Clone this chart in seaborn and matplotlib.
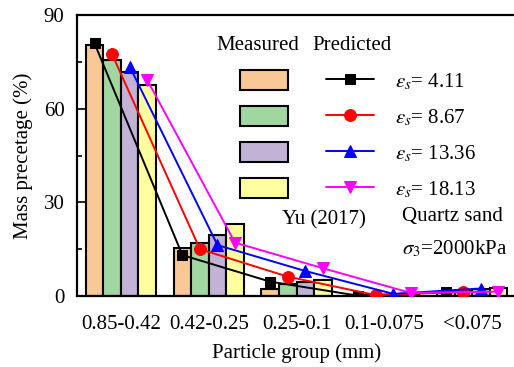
import numpy as np
import pandas as pd
import seaborn as sns
import matplotlib
matplotlib.use("Agg")
import matplotlib.pyplot as plt
from matplotlib.patches import Patch
from matplotlib.ticker import MultipleLocator

# Particle groups (mm)
groups = ["0.85-0.42", "0.42-0.25", "0.25-0.1", "0.1-0.075", "<0.075"]
strain_labels = ["4.11", "8.67", "13.36", "18.13"]

# Measured mass percentage (%) for each shear strain level
measured_411 = [80.4, 15.3, 2.1, 0.2, 1.2]
measured_867 = [75.6, 16.9, 3.7, 0.2, 2.0]
measured_1336 = [71.9, 19.5, 4.6, 0.3, 2.1]
measured_1813 = [67.6, 23.0, 5.1, 0.4, 2.6]

# Predicted mass percentage (%)
predicted_411 = [80.9, 13.1, 4.6, 0.1, 1.2]
predicted_867 = [77.4, 15.0, 6.2, 0.3, 1.3]
predicted_1336 = [73.5, 16.3, 8.0, 0.7, 2.4]
predicted_1813 = [69.2, 17.1, 8.9, 1.0, 1.4]

measured = [measured_411, measured_867, measured_1336, measured_1813]
predicted = [predicted_411, predicted_867, predicted_1336, predicted_1813]

bar_colors = ["#F9C896", "#A0D6A0", "#C1B2D6", "#FFFF9F"]
line_colors = ["black", "#FF0000", "#0000FF", "#FF00FF"]
markers = ["s", "o", "^", "v"]
marker_sizes = [7.5, 8.5, 8.5, 8.5]

sns.set_style("ticks")
plt.rcParams["font.family"] = ["Liberation Serif", "DejaVu Serif"]
plt.rcParams["mathtext.fontset"] = "stix"
plt.rcParams["font.size"] = 15
for key in ["text.color", "axes.labelcolor", "xtick.color", "ytick.color",
            "axes.edgecolor"]:
    plt.rcParams[key] = "black"

df = pd.DataFrame({
    "group": np.repeat([groups], 4, axis=0).ravel(),
    "strain": np.repeat(strain_labels, len(groups)),
    "value": np.concatenate(measured),
})

fig = plt.figure(figsize=(5.14, 3.67), dpi=100)
W, H = 514, 367
ax = fig.add_axes([77 / W, 71 / H, 439 / W, 281 / H])

sns.barplot(data=df, x="group", y="value", hue="strain", order=groups,
            hue_order=strain_labels, palette=bar_colors, saturation=1,
            width=0.8, edgecolor="black", linewidth=1.5, errorbar=None,
            legend=False, ax=ax, zorder=2)

n_hue = len(strain_labels)
bar_w = 0.8 / n_hue
offsets = (np.arange(n_hue) - (n_hue - 1) / 2) * bar_w
xpos = np.arange(len(groups))

for j, vals in enumerate(predicted):
    sns.lineplot(x=xpos + offsets[j], y=vals, color=line_colors[j],
                 marker=markers[j], markersize=marker_sizes[j],
                 markeredgecolor=line_colors[j], linewidth=1.4,
                 ax=ax, zorder=3)

ax.set_xlim(-0.5, 4.5)
ax.set_ylim(0, 90)
ax.yaxis.set_major_locator(MultipleLocator(30))
ax.yaxis.set_minor_locator(MultipleLocator(15))
ax.tick_params(axis="y", which="major", direction="in", length=6, width=1.2,
               pad=9, labelsize=15)
ax.tick_params(axis="y", which="minor", direction="in", length=3.5, width=1.2)
ax.tick_params(axis="x", length=0, pad=14, labelsize=15)
for s in ax.spines.values():
    s.set_linewidth(1.6)
    s.set_color("black")
    s.set_visible(True)

ax.set_xlabel("Particle group (mm)", fontsize=15, labelpad=6)
ax.set_ylabel("Mass precetage (%)", fontsize=15, labelpad=8)

# Legend: measured bars (left column) and predicted curves (right column)
bar_handles = [Patch(facecolor=c, edgecolor="black", linewidth=1.5) for c in bar_colors]
line_handles = list(ax.lines[:4])
labels = [""] * 4 + [r"$\varepsilon_s$= " + s for s in strain_labels]
fig.legend(bar_handles + line_handles, labels, ncol=2, frameon=False,
           loc="upper left", bbox_to_anchor=(240 / W, 1 - 70 / H),
           bbox_transform=fig.transFigure, borderpad=0, borderaxespad=0,
           handlelength=2.3, handleheight=1.1, handletextpad=1.0,
           columnspacing=0.85, labelspacing=0.67, fontsize=15)

fig.text(258 / W, 1 - 45 / H, "Measured", ha="center", va="center", fontsize=15)
fig.text(352 / W, 1 - 45 / H, "Predicted", ha="center", va="center", fontsize=15)
fig.text(324 / W, 1 - 220 / H, "Yu (2017)", ha="center", va="center", fontsize=15)
fig.text(452 / W, 1 - 216 / H, "Quartz sand", ha="center", va="center", fontsize=15)
fig.text(455 / W, 1 - 249 / H, r"$\sigma_3$=2000kPa", ha="center", va="center", fontsize=15)

fig.savefig("out.png", dpi=100)
